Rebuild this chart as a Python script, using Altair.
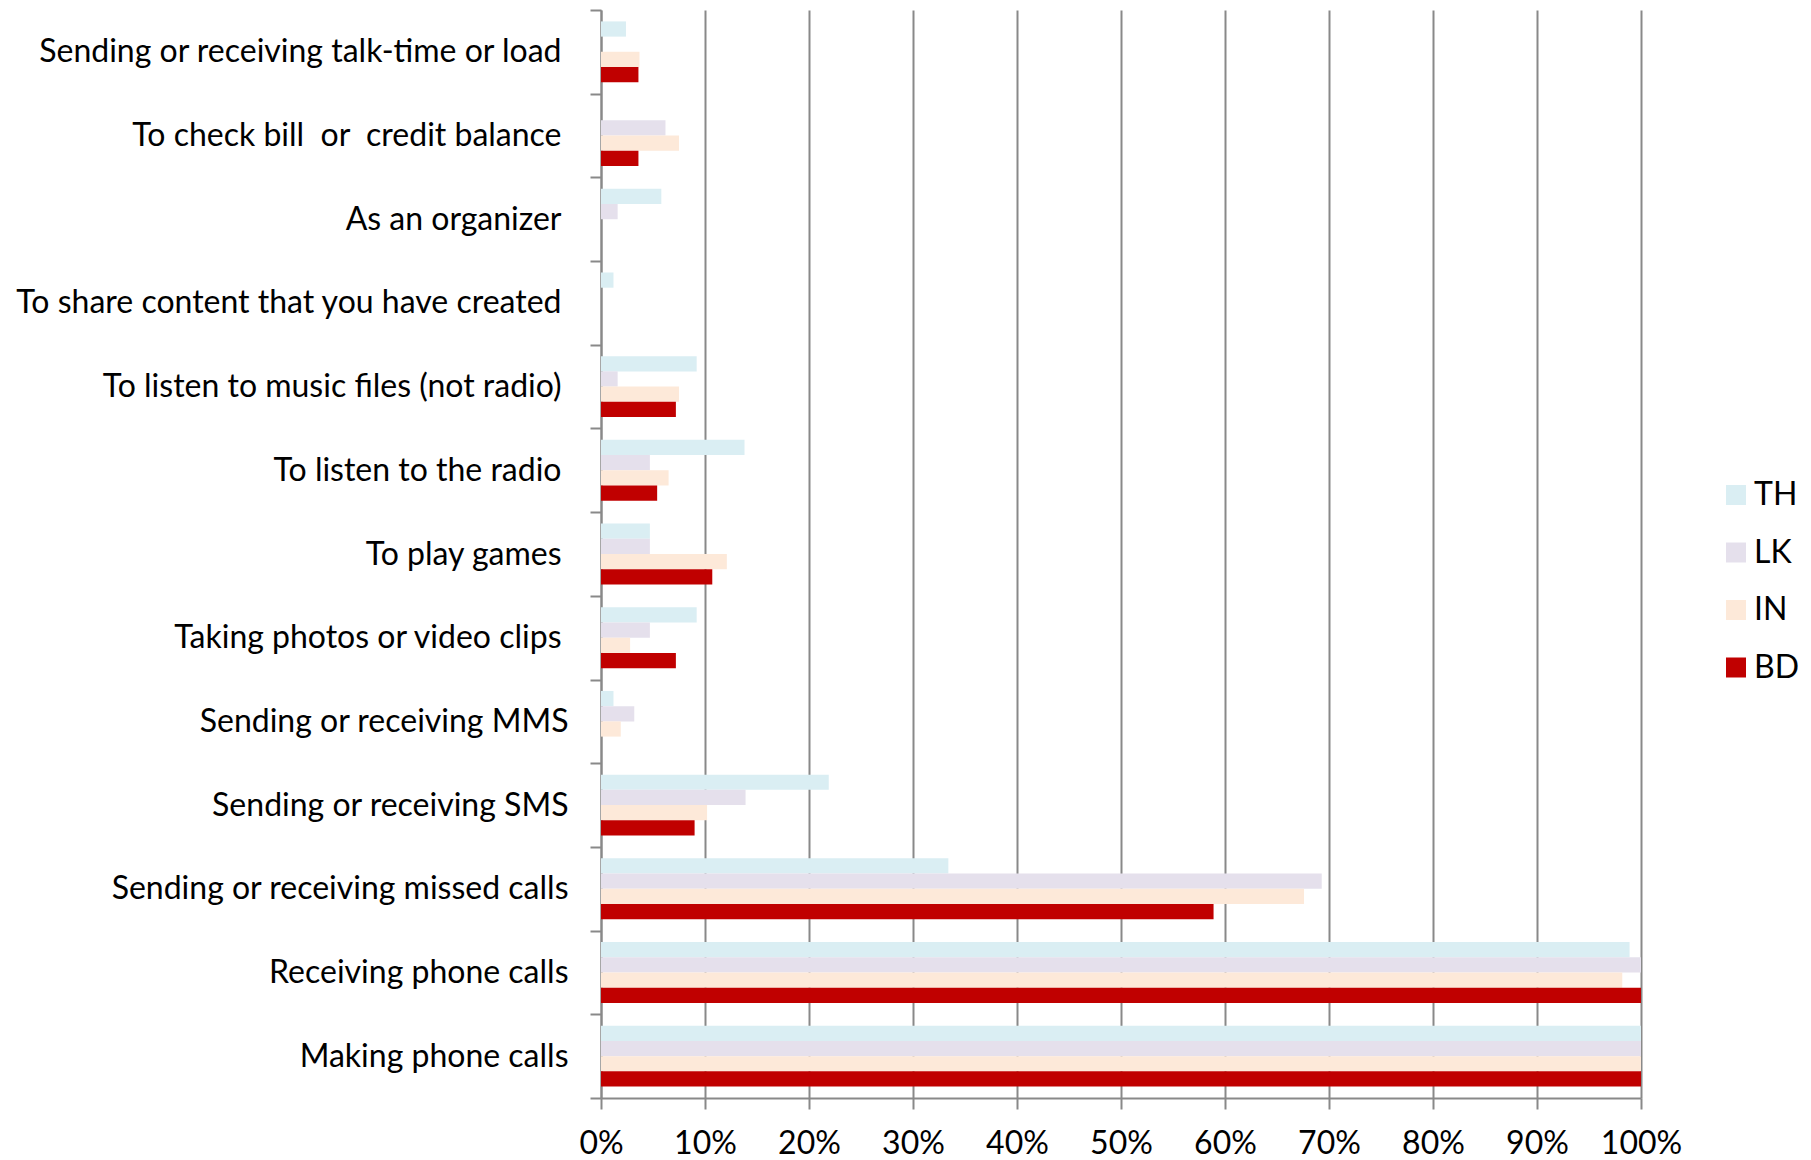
import altair as alt
import pandas as pd

# Mobile-phone uses, share of users per country (percent)
categories = [
    "Sending or receiving talk-time or load",
    "To check bill\u00a0 or\u00a0 credit balance",
    "As an organizer",
    "To share content that you have created",
    "To listen to music files (not radio)",
    "To listen to the radio",
    "To play games",
    "Taking photos or video clips",
    "Sending or receiving MMS",
    "Sending or receiving SMS",
    "Sending or receiving missed calls",
    "Receiving phone calls",
    "Making phone calls",
]
# first eight labels sit a little further from the axis
indented = categories[:8]
countries = ["TH", "LK", "IN", "BD"]
th = [2.4, 0, 5.8, 1.2, 9.2, 13.8, 4.7, 9.2, 1.2, 21.9, 33.4, 98.9, 100]
lk = [0, 6.2, 1.6, 0, 1.6, 4.7, 4.7, 4.7, 3.2, 13.9, 69.3, 100, 100]
in_ = [3.7, 7.5, 0, 0, 7.5, 6.5, 12.1, 2.8, 1.9, 10.2, 67.6, 98.2, 100]
bd = [3.6, 3.6, 0, 0, 7.2, 5.4, 10.7, 7.2, 0, 9.0, 58.9, 100, 100]
colors = ["#DAEEF3", "#E5E0EC", "#FDE9D9", "#C00000"]
x_ticks = [0, 0.1, 0.2, 0.3, 0.4, 0.5, 0.6, 0.7, 0.8, 0.9, 1.0]

rows = []
for i, cat in enumerate(categories):
    for c, vals in zip(countries, [th, lk, in_, bd]):
        rows.append({"activity": cat, "country": c, "share": vals[i] / 100})
df = pd.DataFrame(rows)

FONT = "Lato"
GRAY = "#898989"
FS = 32

indent_test = "indexof([" + ",".join(
    "'" + s.replace("'", "\\'") + "'" for s in indented
) + "], datum.value) >= 0"

chart = (
    alt.Chart(df)
    .mark_bar()
    .encode(
        x=alt.X(
            "share:Q",
            scale=alt.Scale(domain=[0, 1], nice=False, zero=True),
            axis=alt.Axis(
                title=None,
                format=".0%",
                values=x_ticks,
                grid=True,
                gridColor=GRAY,
                gridWidth=2,
                domainColor=GRAY,
                domainWidth=2,
                tickColor=GRAY,
                tickWidth=2,
                tickSize=11,
                labelFont=FONT,
                labelFontSize=FS,
                labelColor="#000000",
                labelPadding=19,
                labelOverlap=False,
                labelFlush=False,
            ),
        ),
        y=alt.Y(
            "activity:N",
            sort=categories,
            scale=alt.Scale(paddingInner=0, paddingOuter=0),
            axis=alt.Axis(
                title=None,
                tickBand="extent",
                grid=False,
                domainColor=GRAY,
                domainWidth=2,
                tickColor=GRAY,
                tickWidth=2,
                tickSize=11,
                labelFont=FONT,
                labelFontSize=FS,
                labelColor="#000000",
                labelPadding={"condition": {"test": indent_test, "value": 29}, "value": 22},
                labelLimit=700,
                labelOverlap=False,
            ),
        ),
        yOffset=alt.YOffset(
            "country:N",
            sort=countries,
            scale=alt.Scale(paddingInner=0, paddingOuter=0.75),
        ),
        color=alt.Color(
            "country:N",
            sort=countries,
            scale=alt.Scale(domain=countries, range=colors),
            legend=alt.Legend(
                title=None,
                orient="none",
                legendX=1119,
                legendY=469,
                symbolType="square",
                symbolSize=400,
                symbolStrokeWidth=0,
                symbolOpacity=1,
                labelFont=FONT,
                labelFontSize=FS,
                labelColor="#000000",
                labelOffset=2,
                rowPadding=25.5,
                padding=0,
            ),
        ),
    )
    .properties(
        width=1040,
        height=1088,
        autosize=alt.AutoSizeParams(type="none"),
        padding={"left": 601, "top": 10, "right": 170, "bottom": 62},
        background="white",
    )
    .configure_view(stroke=None)
)

chart.save("out.html", embed_options={"renderer": "svg", "actions": False})
